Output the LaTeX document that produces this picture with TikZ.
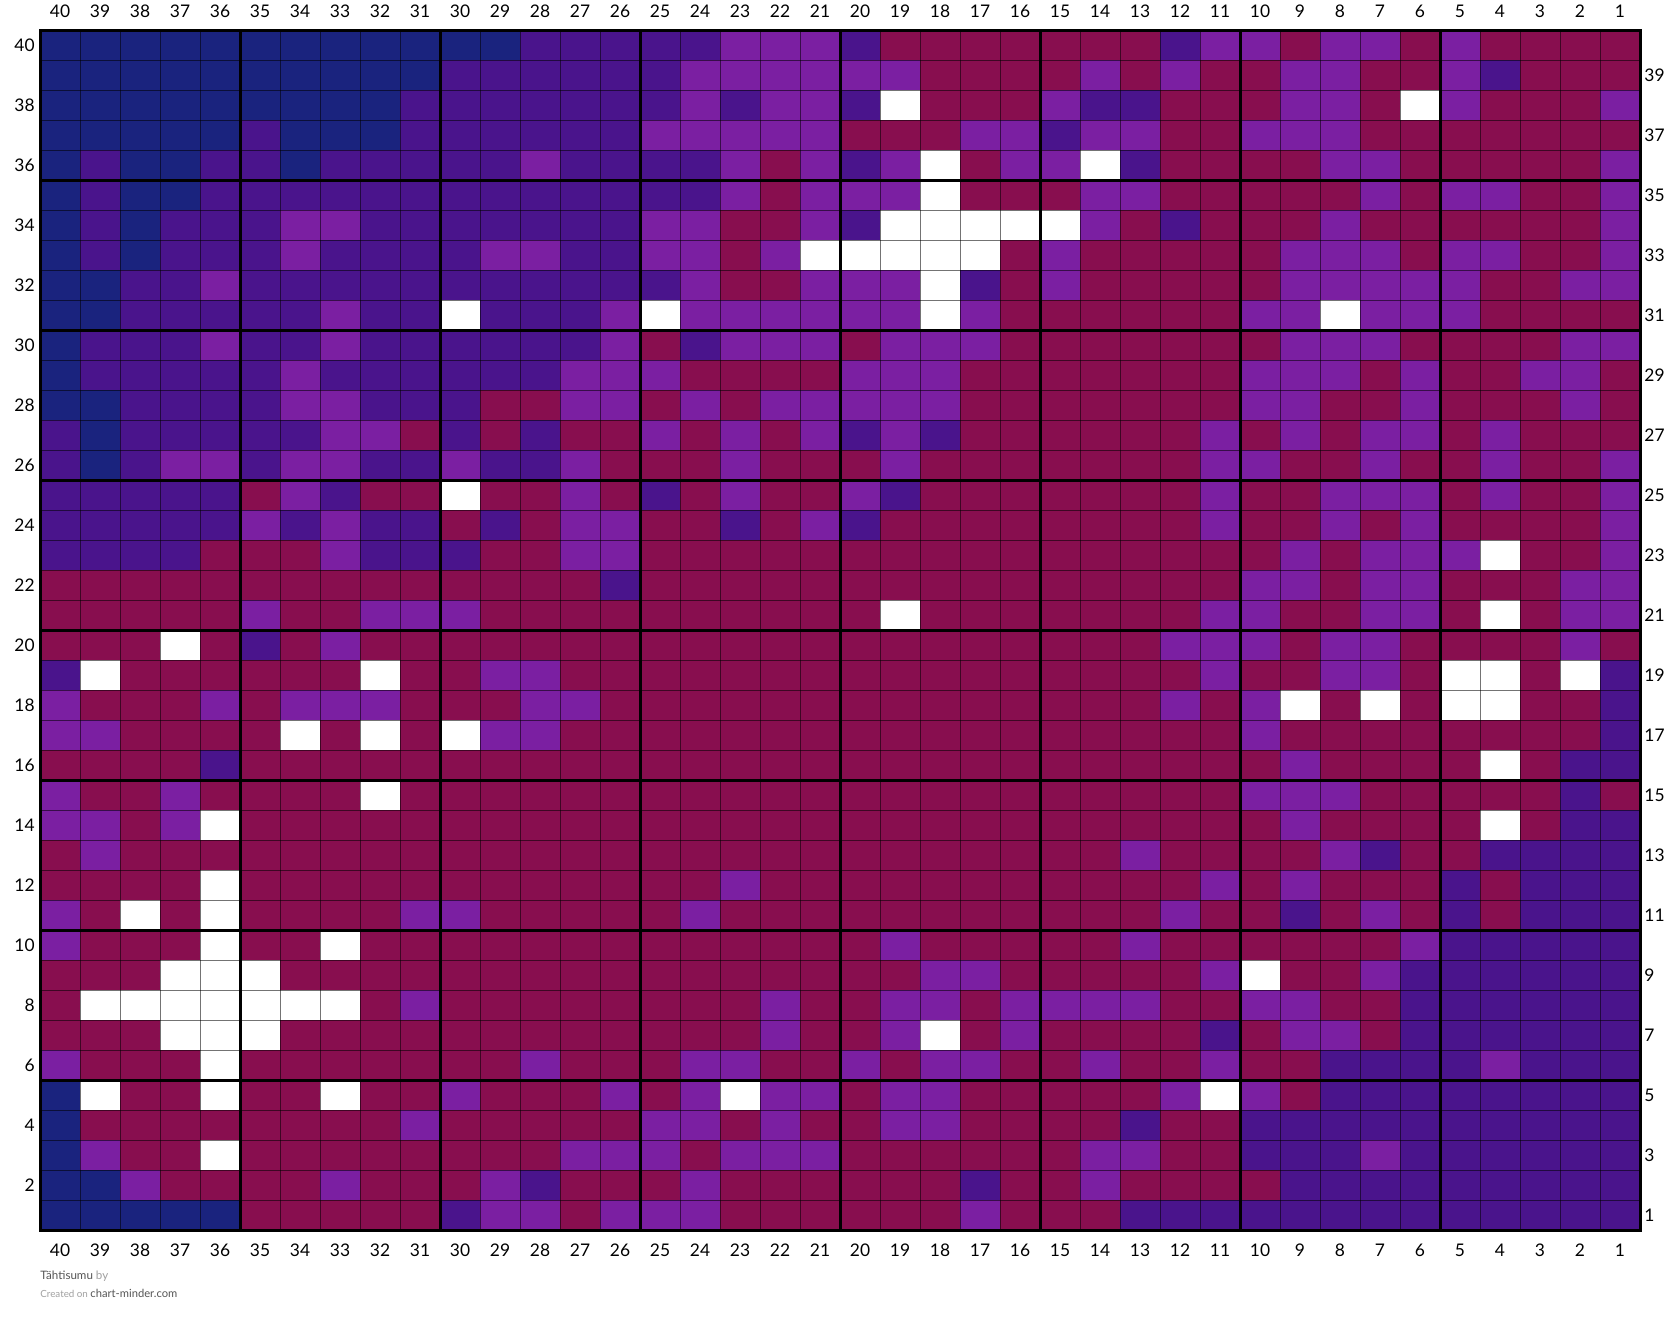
\documentclass[tikz,border=0pt]{standalone}
\usepackage{fontspec}
\setmainfont{Lato}
\definecolor{cN}{HTML}{1A237E}
\definecolor{cD}{HTML}{4A148C}
\definecolor{cP}{HTML}{7B1FA2}
\definecolor{cR}{HTML}{880E4F}
\definecolor{cW}{HTML}{FFFFFF}
\definecolor{footdark}{HTML}{555555}
\definecolor{footlight}{HTML}{A0A0A0}
\newcommand\chartrow[2]{\foreach \c [count=\i] in {#2} {\fill[c\c] ({40+(\i-1)*40},{30+(40-#1)*30}) rectangle +(40,30);}}
\begin{document}
\begin{tikzpicture}[x=0.5pt,y=-0.5pt,
  numlabel/.style={font=\fontsize{8.7}{10}\selectfont, text=black, inner sep=0pt},
  thinline/.style={draw=black, draw opacity=0.55, line width=0.5pt},
  thickline/.style={draw=black, line width=1.5pt}]
\useasboundingbox[fill=white] (0,0) rectangle (1680,1323);
\chartrow{40}{N,N,N,N,N,N,N,N,N,N, N,N,D,D,D,D,D,P,P,P, D,R,R,R,R,R,R,R,D,P, P,R,P,P,R,P,R,R,R,R}
\chartrow{39}{N,N,N,N,N,N,N,N,N,N, D,D,D,D,D,D,P,P,P,P, P,P,R,R,R,R,P,R,P,R, R,P,P,R,R,P,D,R,R,R}
\chartrow{38}{N,N,N,N,N,N,N,N,N,D, D,D,D,D,D,D,P,D,P,P, D,W,R,R,R,P,D,D,R,R, R,P,P,R,W,P,R,R,R,P}
\chartrow{37}{N,N,N,N,N,D,N,N,N,D, D,D,D,D,D,P,P,P,P,P, R,R,R,P,P,D,P,P,R,R, P,P,P,R,R,R,R,R,R,R}
\chartrow{36}{N,D,N,N,D,D,N,D,D,D, D,D,P,D,D,D,D,P,R,P, D,P,W,R,P,P,W,D,R,R, R,R,P,P,R,R,R,R,R,P}
\chartrow{35}{N,D,N,N,D,D,D,D,D,D, D,D,D,D,D,D,D,P,R,P, P,P,W,R,R,R,P,P,R,R, R,R,R,P,R,P,P,R,R,P}
\chartrow{34}{N,D,N,D,D,D,P,P,D,D, D,D,D,D,D,P,P,R,R,P, D,W,W,W,W,W,P,R,D,R, R,R,P,R,R,R,R,R,R,P}
\chartrow{33}{N,D,N,D,D,D,P,D,D,D, D,P,P,D,D,P,P,R,P,W, W,W,W,W,R,P,R,R,R,R, R,P,P,P,R,P,P,R,R,P}
\chartrow{32}{N,N,D,D,P,D,D,D,D,D, D,D,D,D,D,D,P,R,R,P, P,P,W,D,R,P,R,R,R,R, R,P,P,P,P,P,R,R,P,P}
\chartrow{31}{N,N,D,D,D,D,D,P,D,D, W,D,D,D,P,W,P,P,P,P, P,P,W,P,R,R,R,R,R,R, P,P,W,P,P,P,R,R,R,R}
\chartrow{30}{N,D,D,D,P,D,D,P,D,D, D,D,D,D,P,R,D,P,P,P, R,P,P,P,R,R,R,R,R,R, R,P,P,P,R,R,R,R,P,P}
\chartrow{29}{N,D,D,D,D,D,P,D,D,D, D,D,D,P,P,P,R,R,R,R, P,P,P,R,R,R,R,R,R,R, P,P,P,R,P,R,R,P,P,R}
\chartrow{28}{N,N,D,D,D,D,P,P,D,D, D,R,R,P,P,R,P,R,P,P, P,P,P,R,R,R,R,R,R,R, P,P,R,R,P,R,R,R,P,R}
\chartrow{27}{D,N,D,D,D,D,D,P,P,R, D,R,D,R,R,P,R,P,R,P, D,P,D,R,R,R,R,R,R,P, R,P,R,P,P,R,P,R,R,R}
\chartrow{26}{D,N,D,P,P,D,P,P,D,D, P,D,D,P,R,R,R,P,R,R, R,P,R,R,R,R,R,R,R,P, P,R,R,P,R,R,P,R,R,P}
\chartrow{25}{D,D,D,D,D,R,P,D,R,R, W,R,R,P,R,D,R,P,R,R, P,D,R,R,R,R,R,R,R,P, R,R,P,P,P,R,P,R,R,P}
\chartrow{24}{D,D,D,D,D,P,D,P,D,D, R,D,R,P,P,R,R,D,R,P, D,R,R,R,R,R,R,R,R,P, R,R,P,R,P,R,R,R,R,P}
\chartrow{23}{D,D,D,D,R,R,R,P,D,D, D,R,R,P,P,R,R,R,R,R, R,R,R,R,R,R,R,R,R,R, R,P,R,P,P,P,W,R,R,P}
\chartrow{22}{R,R,R,R,R,R,R,R,R,R, R,R,R,R,D,R,R,R,R,R, R,R,R,R,R,R,R,R,R,R, P,P,R,P,P,R,R,R,P,P}
\chartrow{21}{R,R,R,R,R,P,R,R,P,P, P,R,R,R,R,R,R,R,R,R, R,W,R,R,R,R,R,R,R,P, P,R,R,P,P,R,W,R,P,P}
\chartrow{20}{R,R,R,W,R,D,R,P,R,R, R,R,R,R,R,R,R,R,R,R, R,R,R,R,R,R,R,R,P,P, P,R,P,P,R,R,R,R,P,R}
\chartrow{19}{D,W,R,R,R,R,R,R,W,R, R,P,P,R,R,R,R,R,R,R, R,R,R,R,R,R,R,R,R,P, R,R,P,P,R,W,W,R,W,D}
\chartrow{18}{P,R,R,R,P,R,P,P,P,R, R,R,P,P,R,R,R,R,R,R, R,R,R,R,R,R,R,R,P,R, P,W,R,W,R,W,W,R,R,D}
\chartrow{17}{P,P,R,R,R,R,W,R,W,R, W,P,P,R,R,R,R,R,R,R, R,R,R,R,R,R,R,R,R,R, P,R,R,R,R,R,R,R,R,D}
\chartrow{16}{R,R,R,R,D,R,R,R,R,R, R,R,R,R,R,R,R,R,R,R, R,R,R,R,R,R,R,R,R,R, R,P,R,R,R,R,W,R,D,D}
\chartrow{15}{P,R,R,P,R,R,R,R,W,R, R,R,R,R,R,R,R,R,R,R, R,R,R,R,R,R,R,R,R,R, P,P,P,R,R,R,R,R,D,R}
\chartrow{14}{P,P,R,P,W,R,R,R,R,R, R,R,R,R,R,R,R,R,R,R, R,R,R,R,R,R,R,R,R,R, R,P,R,R,R,R,W,R,D,D}
\chartrow{13}{R,P,R,R,R,R,R,R,R,R, R,R,R,R,R,R,R,R,R,R, R,R,R,R,R,R,R,P,R,R, R,R,P,D,R,R,D,D,D,D}
\chartrow{12}{R,R,R,R,W,R,R,R,R,R, R,R,R,R,R,R,R,P,R,R, R,R,R,R,R,R,R,R,R,P, R,P,R,R,R,D,R,D,D,D}
\chartrow{11}{P,R,W,R,W,R,R,R,R,P, P,R,R,R,R,R,P,R,R,R, R,R,R,R,R,R,R,R,P,R, R,D,R,P,R,D,R,D,D,D}
\chartrow{10}{P,R,R,R,W,R,R,W,R,R, R,R,R,R,R,R,R,R,R,R, R,P,R,R,R,R,R,P,R,R, R,R,R,R,P,D,D,D,D,D}
\chartrow{9}{R,R,R,W,W,W,R,R,R,R, R,R,R,R,R,R,R,R,R,R, R,R,P,P,R,R,R,R,R,P, W,R,R,P,D,D,D,D,D,D}
\chartrow{8}{R,W,W,W,W,W,W,W,R,P, R,R,R,R,R,R,R,R,P,R, R,P,P,R,P,P,P,P,R,R, P,P,R,R,D,D,D,D,D,D}
\chartrow{7}{R,R,R,W,W,W,R,R,R,R, R,R,R,R,R,R,R,R,P,R, R,P,W,R,P,R,R,R,R,D, R,P,P,R,D,D,D,D,D,D}
\chartrow{6}{P,R,R,R,W,R,R,R,R,R, R,R,P,R,R,R,P,P,R,R, P,R,P,P,R,R,P,R,R,P, R,R,D,D,D,D,P,D,D,D}
\chartrow{5}{N,W,R,R,W,R,R,W,R,R, P,R,R,R,P,R,P,W,P,P, R,P,P,R,R,R,R,R,P,W, P,R,D,D,D,D,D,D,D,D}
\chartrow{4}{N,R,R,R,R,R,R,R,R,P, R,R,R,R,R,P,P,R,P,R, R,P,P,R,R,R,R,D,R,R, D,D,D,D,D,D,D,D,D,D}
\chartrow{3}{N,P,R,R,W,R,R,R,R,R, R,R,R,P,P,P,R,P,P,P, R,R,R,R,R,R,P,P,R,R, D,D,D,P,D,D,D,D,D,D}
\chartrow{2}{N,N,P,R,R,R,R,P,R,R, R,P,D,R,R,R,P,R,R,R, R,R,R,D,R,R,P,R,R,R, R,D,D,D,D,D,D,D,D,D}
\chartrow{1}{N,N,N,N,N,R,R,R,R,R, D,P,P,R,P,P,P,R,R,R, R,R,R,P,R,R,R,D,D,D, D,D,D,D,D,D,D,D,D,D}
% thin grid lines
\foreach \k in {1,...,39} {\draw[thinline] ({40+\k*40},30) -- ({40+\k*40},1230);}
\foreach \k in {1,...,39} {\draw[thinline] (40,{30+\k*30}) -- (1640,{30+\k*30});}
% thick lines every five cells
\foreach \k in {5,10,...,35} {\draw[thickline] ({40+\k*40},30) -- ({40+\k*40},1230);}
\foreach \k in {5,10,...,35} {\draw[thickline] (40,{30+\k*30}) -- (1640,{30+\k*30});}
\draw[thickline] (40,30) rectangle (1640,1230);
% column labels
\foreach \k in {1,...,40} {
  \node[numlabel] (top\k) at ({40+(40-\k)*40+20},11) {\k};
  \node[numlabel] (bot\k) at ({40+(40-\k)*40+20},1250) {\k};
}
% row labels
\foreach \r in {40,38,...,2} {\node[numlabel, anchor=east] (left\r) at (35,{30+(40-\r)*30+15}) {\r};}
\foreach \r in {39,37,...,1} {\node[numlabel, anchor=west] (right\r) at (1644,{30+(40-\r)*30+15}) {\r};}
% footer
\node[anchor=base west, inner sep=0pt, font=\fontsize{5.8}{7}\selectfont] (title) at (40,1279) {\textcolor{footdark}{Tähtisumu} \textcolor{footlight}{by}};
\node[anchor=base west, inner sep=0pt, font=\fontsize{4.9}{6}\selectfont] (credit) at (40,1297) {\textcolor{footlight}{Created on} \textcolor{footdark}{\fontsize{5.6}{7}\selectfont chart-minder.com}};
\end{tikzpicture}
\end{document}
